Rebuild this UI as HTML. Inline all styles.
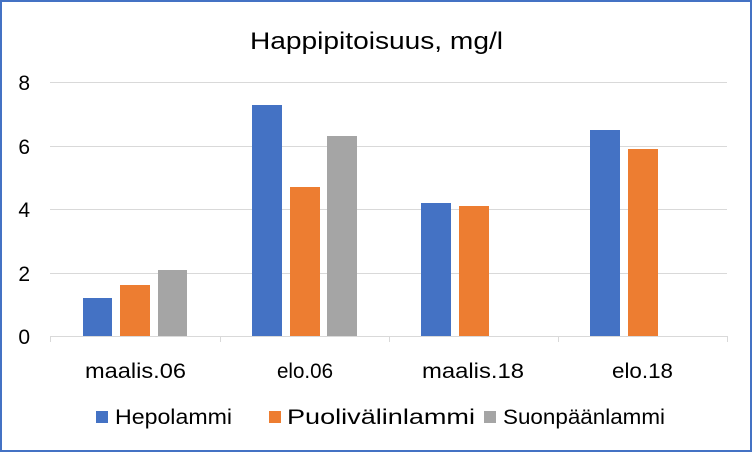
<!DOCTYPE html>
<html><head><meta charset="utf-8"><style>
html,body{margin:0;padding:0;background:#fff}
svg{display:block}
text{font-family:"Liberation Sans",sans-serif;fill:#000}
</style></head><body>
<svg width="752" height="452" viewBox="0 0 752 452">
<rect x="1" y="1" width="750" height="450" fill="#fff" stroke="#4472c4" stroke-width="2"/>
<text x="250" y="49" font-size="24" textLength="253" lengthAdjust="spacingAndGlyphs">Happipitoisuus, mg/l</text>
<g stroke="#d9d9d9" stroke-width="1">
<line x1="50" x2="727" y1="82.5" y2="82.5"/>
<line x1="50" x2="727" y1="146.5" y2="146.5"/>
<line x1="50" x2="727" y1="209.5" y2="209.5"/>
<line x1="50" x2="727" y1="273.5" y2="273.5"/>
<line x1="50" x2="727" y1="336.5" y2="336.5"/>
<line x1="50.5" x2="50.5" y1="336" y2="342"/>
<line x1="220.5" x2="220.5" y1="336" y2="342"/>
<line x1="389.5" x2="389.5" y1="336" y2="342"/>
<line x1="558.5" x2="558.5" y1="336" y2="342"/>
<line x1="727.5" x2="727.5" y1="336" y2="342"/>
</g>
<g font-size="21" text-anchor="end">
<text x="30" y="90">8</text><text x="30" y="154">6</text><text x="30" y="217">4</text><text x="30" y="281">2</text><text x="30" y="344">0</text>
</g>
<g fill="#4472c4">
<rect x="83" y="298" width="29" height="38"/>
<rect x="252" y="105" width="30" height="231"/>
<rect x="421" y="203" width="30" height="133"/>
<rect x="590" y="130" width="30" height="206"/>
</g>
<g fill="#ed7d31">
<rect x="120" y="285" width="30" height="51"/>
<rect x="290" y="187" width="30" height="149"/>
<rect x="459" y="206" width="30" height="130"/>
<rect x="628" y="149" width="30" height="187"/>
</g>
<g fill="#a5a5a5">
<rect x="158" y="270" width="29" height="66"/>
<rect x="327" y="136" width="30" height="200"/>
</g>
<g font-size="21">
<text x="85" y="378" textLength="101" lengthAdjust="spacingAndGlyphs">maalis.06</text>
<text x="277" y="378" textLength="56" lengthAdjust="spacingAndGlyphs">elo.06</text>
<text x="422" y="378" textLength="102" lengthAdjust="spacingAndGlyphs">maalis.18</text>
<text x="612" y="378" textLength="61" lengthAdjust="spacingAndGlyphs">elo.18</text>
</g>
<g font-size="21">
<rect x="96" y="411" width="12" height="12" fill="#4472c4"/><text x="115" y="424" textLength="117" lengthAdjust="spacingAndGlyphs">Hepolammi</text>
<rect x="269" y="411" width="12" height="12" fill="#ed7d31"/><text x="287" y="424" textLength="188" lengthAdjust="spacingAndGlyphs">Puolivälinlammi</text>
<rect x="484" y="411" width="12" height="12" fill="#a5a5a5"/><text x="503" y="424" textLength="162" lengthAdjust="spacingAndGlyphs">Suonpäänlammi</text>
</g>
</svg>
</body></html>
